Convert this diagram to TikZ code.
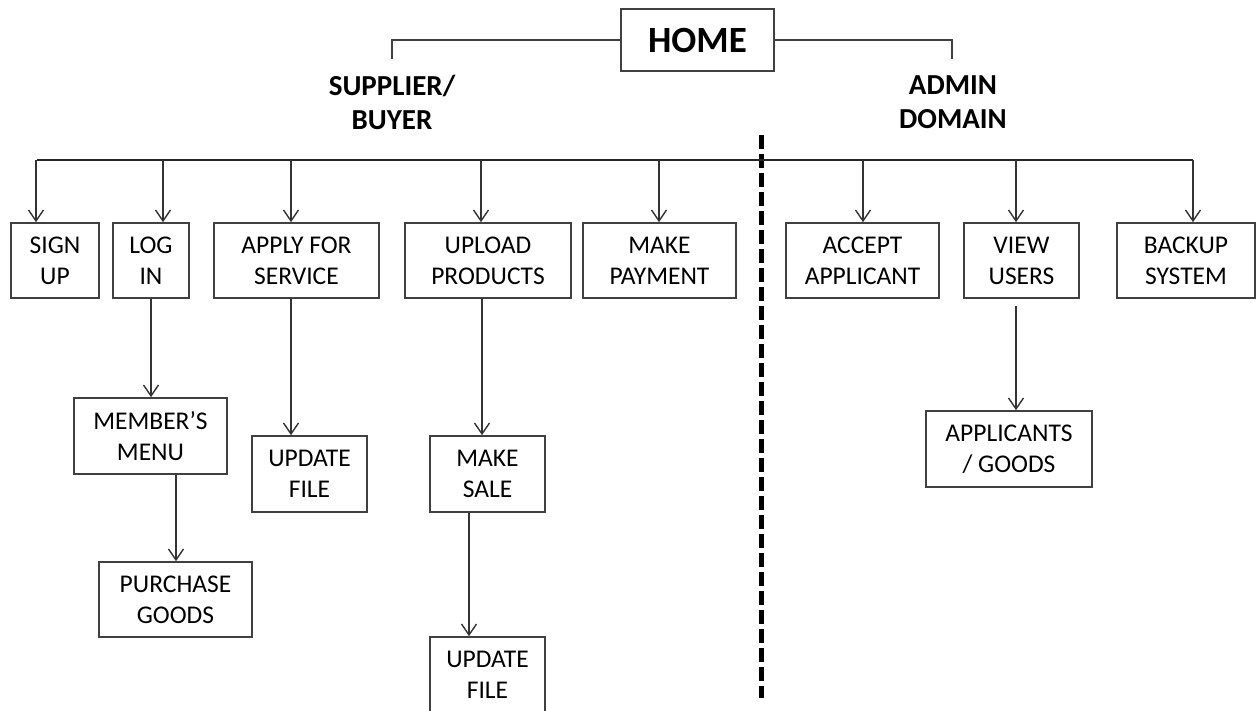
\documentclass[tikz,border=0pt]{standalone}
\usepackage{fontspec}
\setmainfont{Carlito}
\usetikzlibrary{arrows.meta}

\tikzset{
  box/.style={draw=black!75, line width=1.6pt, inner sep=0pt, align=center,
              font=\fontsize{25.5}{31}\selectfont},
  arr/.style={draw=black!80, line width=1.4pt,
              -{Straight Barb[length=11pt,width=15pt,line width=1.4pt]}},
  link/.style={draw=black!75, line width=1.5pt},
  bus/.style={draw=black!85, line width=2pt},
  head/.style={font=\fontsize{29}{34}\selectfont\bfseries, align=center, inner sep=0pt},
  divider/.style={draw=black, line width=5pt, dash pattern=on 14pt off 5pt}
}

\begin{document}
\begin{tikzpicture}[x=1pt, y=-1pt]
\useasboundingbox (0,0) rectangle (1259,711);
\clip (0,0) rectangle (1259,711);

% top of the hierarchy
\node[box, minimum width=153pt, minimum height=62pt,
      font=\fontsize{37}{40}\selectfont\bfseries] (home) at (697.5,40) {HOME};

\coordinate (sbdrop) at (392,59);
\coordinate (addrop) at (952,59);
\draw[link] (home.west) -- (sbdrop |- home.west) -- (sbdrop);
\draw[link] (home.east) -- (addrop |- home.east) -- (addrop);

\node[head, anchor=base] (sb) at (392,130) {SUPPLIER/\\BUYER};
\node[head, anchor=base] (ad) at (953,129) {ADMIN\\DOMAIN};

% boundary between the two sides
\coordinate (divtop) at (761,135);
\coordinate (divbot) at (761,698);
\draw[divider] (divtop) -- (divbot);

% first level
\node[box, minimum width=88pt,  minimum height=75pt] (signup)  at (55,260.5)    {SIGN\\UP};
\node[box, minimum width=76pt,  minimum height=75pt] (login)   at (151,260.5)   {LOG\\IN};
\node[box, minimum width=165pt, minimum height=75pt] (apply)   at (296.5,260.5) {APPLY FOR\\SERVICE};
\node[box, minimum width=166pt, minimum height=75pt] (upload)  at (488,260.5)   {UPLOAD\\PRODUCTS};
\node[box, minimum width=153pt, minimum height=75pt] (payment) at (659.5,260.5) {MAKE\\PAYMENT};
\node[box, minimum width=153pt, minimum height=75pt] (accept)  at (862.5,260.5) {ACCEPT\\APPLICANT};
\node[box, minimum width=115pt, minimum height=75pt] (view)    at (1021.5,260.5){VIEW\\USERS};
\node[box, minimum width=138pt, minimum height=75pt] (backup)  at (1186,260.5)  {BACKUP\\SYSTEM};

% lower levels
\node[box, minimum width=153pt, minimum height=76pt] (members)   at (150.5,436)  {MEMBER’S\\MENU};
\node[box, minimum width=153pt, minimum height=75pt] (purchase)  at (175.5,599.5){PURCHASE\\GOODS};
\node[box, minimum width=115pt, minimum height=76pt] (updatea)   at (309.5,474)  {UPDATE\\FILE};
\node[box, minimum width=115pt, minimum height=76pt] (makesale)  at (487.5,474)  {MAKE\\SALE};
\node[box, minimum width=115pt, minimum height=76pt] (updateb)   at (487.5,675)  {UPDATE\\FILE};
\node[box, minimum width=166pt, minimum height=76pt] (applicants) at (1009,449)  {APPLICANTS\\/ GOODS};

% distribution bus
\coordinate (busl) at (37,160);
\coordinate (busr) at (1193,160);
\draw[bus] (busl) -- (busr);

\foreach \x/\n in {36/signup, 163/login, 291/apply, 481/upload, 659/payment,
                   863/accept, 1016/view, 1193/backup}{
  \coordinate (tap-\n) at (\x,160);
  \draw[arr] (tap-\n) -- (tap-\n |- \n.north);
}

% branches below the first level
\coordinate (lo) at (151,0);
\draw[arr] (lo |- login.south) -- (lo |- members.north);
\coordinate (mo) at (176,0);
\draw[arr] (mo |- members.south) -- (mo |- purchase.north);
\coordinate (ao) at (291,0);
\draw[arr] (ao |- apply.south) -- (ao |- updatea.north);
\coordinate (uo) at (482,0);
\draw[arr] (uo |- upload.south) -- (uo |- makesale.north);
\coordinate (so) at (469,0);
\draw[arr] (so |- makesale.south) -- (so |- updateb.north);
\coordinate (vo) at (1016,306);
\draw[arr] (vo) -- (vo |- applicants.north);
\end{tikzpicture}
\end{document}
